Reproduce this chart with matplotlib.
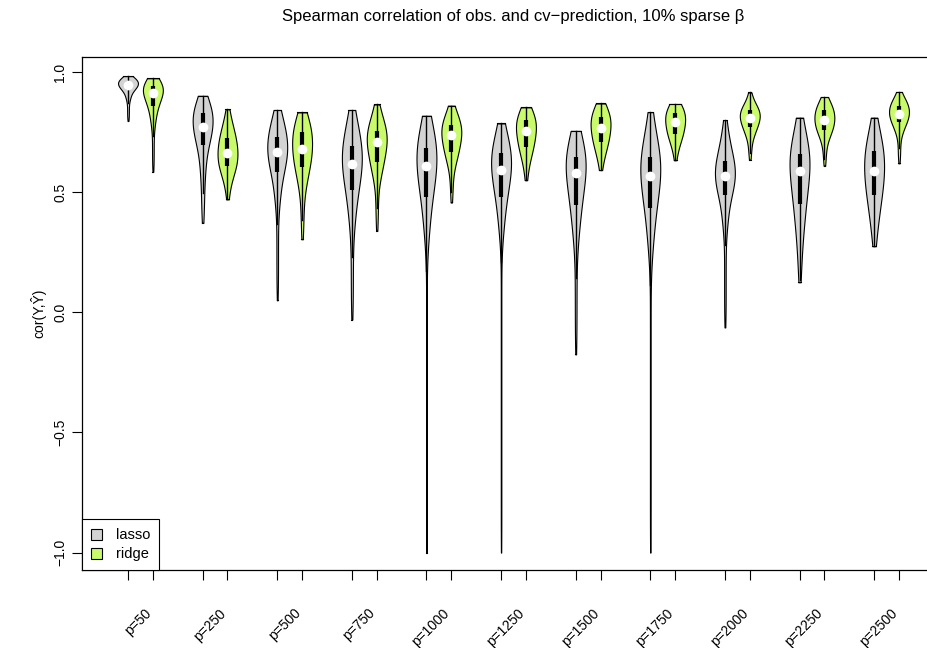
import math
import numpy as np
import matplotlib
matplotlib.use("Agg")
import matplotlib.pyplot as plt
from matplotlib.patches import Patch

plt.rcParams['font.family'] = ['Liberation Sans', 'DejaVu Sans']

groups = ['p=50', 'p=250', 'p=500', 'p=750', 'p=1000', 'p=1250',
          'p=1500', 'p=1750', 'p=2000', 'p=2250', 'p=2500']

# summaries: min, 10%, 25%, median, 75%, 90%, max
lasso_min = [0.796, 0.372, 0.05, -0.03, -1.0, -1.0, -0.175, -1.0, -0.063, 0.125, 0.275]
lasso_q10 = [0.885, 0.56, 0.45, 0.36, 0.30, 0.32, 0.30, 0.25, 0.35, 0.33, 0.40]
lasso_q25 = [0.925, 0.696, 0.585, 0.508, 0.48, 0.48, 0.446, 0.433, 0.49, 0.45, 0.49]
lasso_med = [0.946, 0.771, 0.667, 0.619, 0.608, 0.594, 0.578, 0.567, 0.567, 0.59, 0.588]
lasso_q75 = [0.962, 0.829, 0.73, 0.692, 0.685, 0.661, 0.647, 0.646, 0.63, 0.66, 0.67]
lasso_q90 = [0.972, 0.86, 0.79, 0.77, 0.76, 0.72, 0.70, 0.72, 0.70, 0.72, 0.73]
lasso_max = [0.983, 0.901, 0.842, 0.842, 0.818, 0.786, 0.755, 0.833, 0.80, 0.81, 0.81]

ridge_min = [0.585, 0.47, 0.304, 0.339, 0.457, 0.55, 0.592, 0.633, 0.635, 0.61, 0.62]
ridge_q10 = [0.78, 0.575, 0.52, 0.56, 0.62, 0.65, 0.67, 0.71, 0.73, 0.72, 0.745]
ridge_q25 = [0.858, 0.61, 0.605, 0.626, 0.668, 0.689, 0.71, 0.74, 0.77, 0.76, 0.79]
ridge_med = [0.911, 0.664, 0.678, 0.707, 0.736, 0.754, 0.768, 0.79, 0.81, 0.80, 0.825]
ridge_q75 = [0.94, 0.725, 0.751, 0.754, 0.779, 0.80, 0.814, 0.83, 0.84, 0.84, 0.86]
ridge_q90 = [0.955, 0.77, 0.79, 0.80, 0.81, 0.825, 0.84, 0.85, 0.86, 0.865, 0.88]
ridge_max = [0.974, 0.845, 0.832, 0.865, 0.86, 0.853, 0.869, 0.867, 0.915, 0.896, 0.917]

lasso_col = '#d3d3d3'
ridge_col = '#c8fa6a'

probs = [0.0, 0.10, 0.25, 0.50, 0.75, 0.90, 1.0]
erf = np.vectorize(math.erf)


def density(qs, y):
    # smoothed piecewise-uniform density implied by the quantiles
    h = 0.45 * (qs[4] - qs[2])
    d = np.zeros_like(y)
    for i in range(6):
        lo, hi = qs[i], qs[i + 1]
        w = probs[i + 1] - probs[i]
        span = max(hi - lo, 1e-4)
        d += w * (erf((y - lo) / (h * np.sqrt(2))) - erf((y - hi) / (h * np.sqrt(2)))) / (2 * span)
    return d


def draw_violin(ax, x, qs, color):
    y = np.linspace(qs[0], qs[-1], 400)
    d = density(qs, y)
    half = d / d.max() * 0.4
    ax.fill_betweenx(y, x - half, x + half, facecolor=color, edgecolor='black', lw=0.8, zorder=2)
    ax.plot([x - half[0], x + half[0]], [y[0], y[0]], color='black', lw=0.8, zorder=2)
    ax.plot([x - half[-1], x + half[-1]], [y[-1], y[-1]], color='black', lw=0.8, zorder=2)
    iqr = qs[4] - qs[2]
    lo = max(qs[0], qs[2] - 1.5 * iqr)
    hi = min(qs[6], qs[4] + 1.5 * iqr)
    ax.plot([x, x], [lo, hi], color='black', lw=1, zorder=3)
    ax.plot([x, x], [qs[2], qs[4]], color='black', lw=3, solid_capstyle='butt', zorder=4)
    ax.plot(x, qs[3], 'o', color='white', ms=6, mec='white', zorder=5)


W, H = 927, 648
fig = plt.figure(figsize=(W / 100, H / 100), dpi=100)
ax = fig.add_axes([82 / W, (H - 570) / H, (945 - 82) / W, (570 - 57) / H])

pos_lasso = [3 * i + 1 for i in range(len(groups))]
pos_ridge = [3 * i + 2 for i in range(len(groups))]

for i in range(len(groups)):
    ql = [lasso_min[i], lasso_q10[i], lasso_q25[i], lasso_med[i], lasso_q75[i], lasso_q90[i], lasso_max[i]]
    qr = [ridge_min[i], ridge_q10[i], ridge_q25[i], ridge_med[i], ridge_q75[i], ridge_q90[i], ridge_max[i]]
    draw_violin(ax, pos_lasso[i], ql, lasso_col)
    draw_violin(ax, pos_ridge[i], qr, ridge_col)

ax.set_xlim(-0.85, 33.85)
ax.set_ylim(-1.0725, 1.0625)
ax.set_xticks(pos_lasso + pos_ridge)
ax.set_xticklabels([])
ax.set_yticks([-1.0, -0.5, 0.0, 0.5, 1.0])
ax.set_yticklabels(['\u22121.0', '\u22120.5', '0.0', '0.5', '1.0'], rotation=90, va='center')
ax.tick_params(length=7, width=0.8, labelsize=10, pad=3.7)
for s in ax.spines.values():
    s.set_linewidth(0.9)

# group labels: data x, axes y
for i, g in enumerate(groups):
    ax.text(pos_lasso[i] + 0.85, -0.08, g, rotation=45, ha='right', va='center',
            rotation_mode='anchor', fontsize=10, transform=ax.get_xaxis_transform(), clip_on=False)

ax.set_ylabel('cor(Y,\u0176)', fontsize=10, labelpad=4.6)
ax.set_title('Spearman correlation of obs. and cv\u2212prediction, 10% sparse \u03b2', fontsize=12, pad=26)

handles = [Patch(facecolor=lasso_col, edgecolor='black', lw=0.8, label='lasso'),
           Patch(facecolor=ridge_col, edgecolor='black', lw=0.8, label='ridge')]
leg = ax.legend(handles=handles, loc='lower left', borderaxespad=0, fancybox=False,
                edgecolor='black', framealpha=1, fontsize=10.5, handlelength=0.8, handleheight=0.8,
                handletextpad=0.9, borderpad=0.6, labelspacing=0.35)
leg.get_frame().set_linewidth(0.8)

fig.savefig('out.png', dpi=100)
